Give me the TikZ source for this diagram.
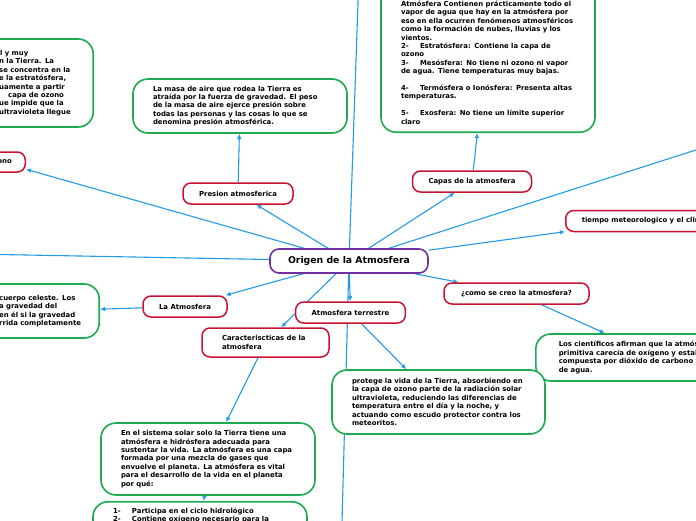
\documentclass[tikz,border=0pt]{standalone}
\usepackage{fontspec}
\setmainfont{DejaVu Sans}
\usetikzlibrary{arrows.meta}
\definecolor{cblue}{RGB}{35,155,230}
\definecolor{cred}{RGB}{200,20,50}
\definecolor{cgreen}{RGB}{30,170,80}
\definecolor{cpurple}{RGB}{112,48,160}
\pgfdeclarelayer{paper}
\pgfdeclarelayer{bg}
\pgfsetlayers{paper,bg,main}
\begin{document}
\begin{tikzpicture}[x=1pt,y=-1pt,
  conn/.style={draw=cblue, line width=1.1pt},
  arr/.style={conn, -{Latex[length=5pt,width=4.6pt]}},
  smalltext/.style={font=\fontsize{6.9}{8.4}\selectfont\bfseries},
  rbox/.style={smalltext, draw=cred, line width=1.5pt, rounded corners=8pt, fill=white, minimum height=21pt, inner xsep=16pt, inner ysep=2pt},
  gbox/.style={smalltext, draw=cgreen, line width=1.6pt, rounded corners=15pt, fill=white, align=left, inner xsep=20pt, inner ysep=6pt},
  cbox/.style={font=\fontsize{9.3}{11}\selectfont\bfseries, draw=cpurple, line width=1.6pt, rounded corners=9pt, fill=white, minimum width=158pt, minimum height=24pt}
]
\useasboundingbox (0,0) rectangle (696,520);
\begin{pgfonlayer}{paper}
\fill[white] (0,0) rectangle (696,520);
\end{pgfonlayer}

\node[cbox] (C) at (349,261) {Origen de la Atmosfera};
\node[rbox, minimum width=110pt] (P) at (238,193.5) {Presion atmosferica};
\node[gbox, text width=174pt, minimum height=54pt] (M) at (240,106) {La masa de aire que rodea la Tierra es\\atraída por la fuerza de gravedad. El peso\\de la masa de aire ejerce presión sobre\\todas las personas y las cosas lo que se\\denomina presión atmosférica.};
\node[rbox, minimum width=118pt] (K) at (472,181.5) {Capas de la atmosfera};
\node[gbox, text width=174pt, anchor=south, inner ysep=8pt] (TR) at (488,133) {\mbox{}\\[48pt]Atmósfera Contienen prácticamente todo el\\vapor de agua que hay en la atmósfera por\\eso en ella ocurren fenómenos atmosféricos\\como la formación de nubes, lluvias y los\\vientos.\\\makebox[19pt][l]{2-}Estratósfera: Contiene la capa de\\ozono\\\makebox[19pt][l]{3-}Mesósfera: No tiene ni ozono ni vapor\\de agua. Tiene temperaturas muy bajas.\\[8.4pt]\makebox[19pt][l]{4-}Termósfera o Ionósfera: Presenta altas\\temperaturas.\\[8.4pt]\makebox[19pt][l]{5-}Exosfera: No tiene un límite superior\\claro};
\node[rbox, anchor=west] (TI) at (565,221) {tiempo meteorologico y el clima};
\node[gbox, anchor=east, text width=80pt, inner xsep=14pt, minimum height=88pt] (TL) at (94,83) {\hspace*{1pt}l y muy\\n la Tierra. La\\se concentra en la\\e la estratósfera,\\uamente a partir\\\hspace*{9pt}capa de ozono\\ue impide que la\\ultravioleta llegue};
\node[rbox, anchor=east, inner xsep=13.5pt, minimum height=20pt] (LO) at (26,162) {ozono};
\node[rbox, minimum width=84pt] (LA) at (185,306.5) {La Atmosfera};
\node[gbox, anchor=east, text width=84pt, inner xsep=16pt, minimum height=54pt] (LB) at (100,311) {cuerpo celeste. Los\\a gravedad del\\en él si la gravedad\\rrida completamente};
\node[rbox, minimum width=109pt] (AT) at (350.5,312.5) {Atmosfera terrestre};
\node[rbox, minimum width=127pt, minimum height=29pt, text width=87pt, align=left] (CA) at (265.5,342.5) {Caracteriscticas de la\\atmosfera};
\node[rbox, minimum width=145pt] (CO) at (516.5,293.5) {¿como se creo la atmosfera?};
\node[gbox, anchor=west, text width=200pt, inner xsep=23pt, minimum height=47pt] (LC) at (535,357.5) {Los científicos afirman que la atmósfera\\primitiva carecía de oxígeno y estaba\\compuesta por dióxido de carbono y vapor\\de agua.};
\node[gbox, text width=173pt, minimum height=64pt] (PR) at (438.5,402) {protege la vida de la Tierra, absorbiendo en\\la capa de ozono parte de la radiación solar\\ultravioleta, reduciendo las diferencias de\\temperatura entre el día y la noche, y\\actuando como escudo protector contra los\\meteoritos.};
\node[gbox, text width=174pt, minimum height=72pt] (ES) at (208,459) {En el sistema solar solo la Tierra tiene una\\atmósfera e hidrósfera adecuada para\\sustentar la vida. La atmósfera es una capa\\formada por una mezcla de gases que\\envuelve el planeta. La atmósfera es vital\\para el desarrollo de la vida en el planeta\\por qué:};
\node[gbox, text width=174pt, anchor=north] (ON) at (200,501) {\makebox[19pt][l]{1-}Participa en el ciclo hidrológico\\\makebox[19pt][l]{2-}Contiene oxígeno necesario para la\\[40pt]\mbox{}};

\coordinate (offL) at (-60,253.4);
\coordinate (offU) at (359.5,-40);
\coordinate (offD) at (341,560);
\coordinate (offTR) at (800,116.7);

\begin{pgfonlayer}{bg}
\draw[conn] (C) -- (offL);
\draw[conn] (C) -- (offU);
\draw[conn] (C) -- (offD);
\draw[conn] (C) -- (offTR);
\draw[arr] (C) -- (P);
\draw[arr] (P) -- (M);
\draw[arr] (C) -- (LO);
\draw[arr] (C) -- (K);
\draw[arr] (K) -- (TR);
\draw[arr] (C) -- (TI);
\draw[arr] (C) -- (LA);
\draw[arr] (LA) -- (LB);
\draw[arr] (C) -- (AT);
\draw[arr] (C) -- (CA);
\draw[arr] (C) -- (CO);
\draw[arr] (CO) -- (LC);
\draw[arr] (AT) -- (PR);
\draw[arr] (CA) -- (ES);
\draw[arr] (ES) -- (ON);
\end{pgfonlayer}
\end{tikzpicture}
\end{document}
